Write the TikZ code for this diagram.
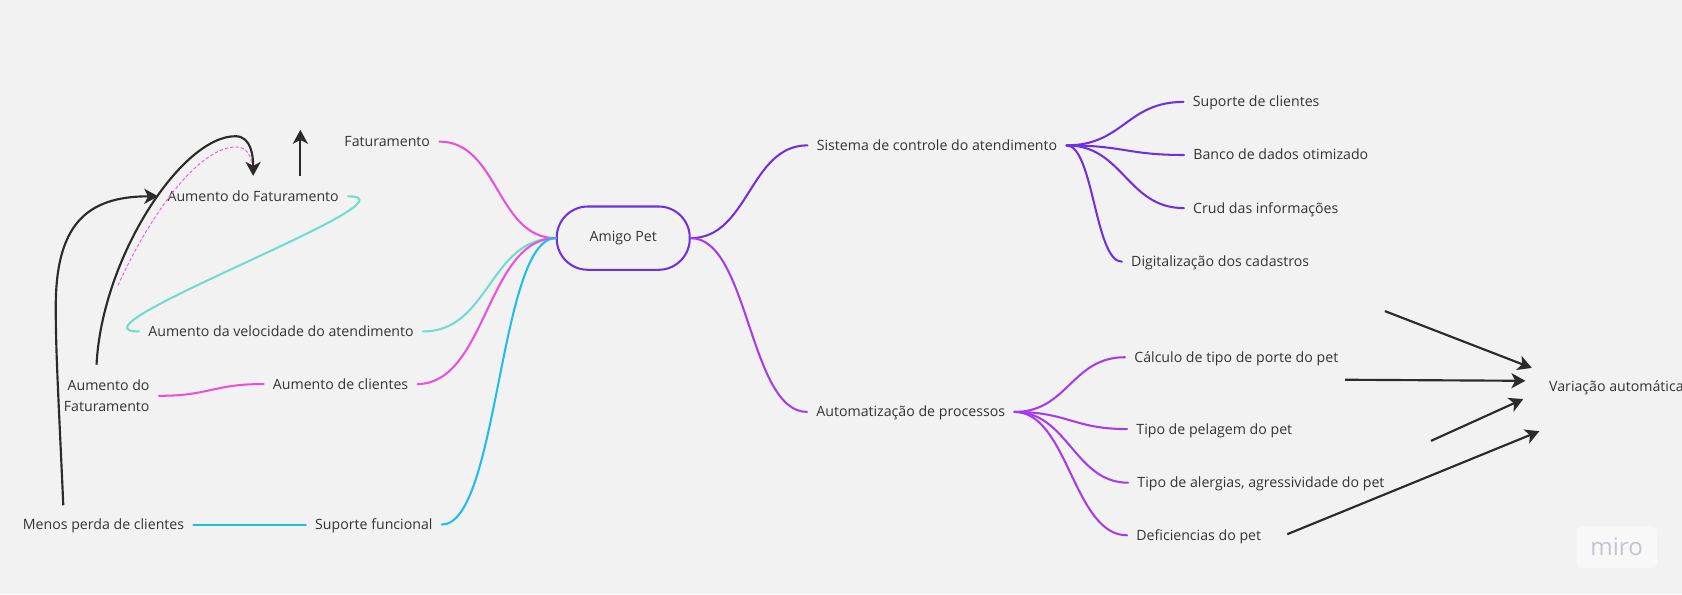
\documentclass[tikz,border=0pt]{standalone}
\usepackage{fontspec}
\setmainfont{Open Sans}
\usetikzlibrary{arrows.meta,calc}
\definecolor{bg}{HTML}{F2F2F2}
\definecolor{txt}{HTML}{333333}
\definecolor{cpink}{HTML}{EC4FDA}
\definecolor{cteal}{HTML}{6EDDCB}
\definecolor{cblue}{HTML}{1EBDEB}
\definecolor{cpurple}{HTML}{6F2FE3}
\definecolor{cviolet}{HTML}{A63BEC}
\definecolor{cblack}{HTML}{2B2B2B}
\definecolor{mirotxt}{HTML}{C4C4D2}
\begin{document}
\begin{tikzpicture}[x=1pt,y=-1pt,
  font=\fontsize{13.2}{20}\selectfont,
  lbl/.style={text=txt, inner xsep=8.5pt, inner ysep=2pt, text height=9.6pt, text depth=0.3pt},
  conn/.style={line width=1.9pt, line cap=round},
  arr/.style={cblack, line width=2pt, -{Stealth[length=13pt,width=14pt,inset=3.5pt]}},
]
\fill[bg] (0,0) rectangle (1568,554);
\clip (0,0) rectangle (1568,554);

% central node
\node[draw=cpurple, line width=1.9pt, rounded corners=29pt, minimum width=124pt,
      minimum height=59pt, text=txt] (amigo) at (581,222) {Amigo Pet};

% left side
\node[lbl] (fat) at (361,132) {Faturamento};
\node[lbl] (aumfat) at (236,183) {Aumento do Faturamento};
\node[lbl] (vel) at (262,309) {Aumento da velocidade do atendimento};
\node[lbl] (aumcli) at (317.5,358) {Aumento de clientes};
\node[text=txt, inner xsep=8.5pt, inner ysep=2pt, align=right] (aumfat2) at (99.5,369) {Aumento do\\Faturamento};
\node[lbl] (menos) at (96.5,489) {Menos perda de clientes};
\node[lbl] (supf) at (348.5,489) {Suporte funcional};

% right side
\node[lbl] (sis) at (873.5,135.5) {Sistema de controle do atendimento};
\node[lbl] (auto) at (849,384) {Automatização de processos};
\node[lbl] (supc) at (1171,95) {Suporte de clientes};
\node[lbl] (banco) at (1194,144.5) {Banco de dados otimizado};
\node[lbl] (crud) at (1180,194) {Crud das informações};
\node[lbl] (dig) at (1137.5,244) {Digitalização dos cadastros};
\node[lbl] (calc) at (1152.5,333) {Cálculo de tipo de porte do pet};
\node[lbl] (pel) at (1132,400) {Tipo de pelagem do pet};
\node[lbl] (alerg) at (1175.5,450) {Tipo de alergias, agressividade do pet};
\node[lbl] (defic) at (1117.5,499) {Deficiencias do pet};
\node[lbl, anchor=west, inner xsep=0pt] (var) at (1444,360) {Variação automática};

% miro watermark
\node[fill=white!45!bg, rounded corners=4pt, text=mirotxt, minimum width=75pt, minimum height=39pt,
      inner sep=0pt, font=\fontsize{22.5}{24}\selectfont] (miro) at (1507,510) {miro};

% connectors from center, left
\draw[conn,cpink] (amigo.west) to[out=180,in=0,distance=55pt] (fat.east);
\draw[conn,cteal] (amigo.west) to[out=180,in=0,distance=62pt] (vel.east);
\draw[conn,cpink] (amigo.west) to[out=180,in=0,distance=64pt] (aumcli.east);
\draw[conn,cblue] (amigo.west) to[out=180,in=0,distance=53pt] (supf.east);

\draw[conn,cteal] (aumfat.east) to[out=0,in=180,out distance=75pt,in distance=77pt] (vel.west);
\draw[conn,cpink] (aumcli.west) to[out=180,in=0,distance=48pt] (aumfat2.east);
\draw[conn,cblue] (menos.east) -- (supf.west);

% connectors from center, right
\draw[conn,cpurple] (amigo.east) to[out=0,in=180,distance=54pt] (sis.west);
\draw[conn,cviolet] (amigo.east) to[out=0,in=180,distance=54pt] (auto.west);

\draw[conn,cpurple] (sis.east) to[out=0,in=180,distance=53pt] (supc.west);
\draw[conn,cpurple] (sis.east) to[out=0,in=180,distance=53pt] (banco.west);
\draw[conn,cpurple] (sis.east) to[out=0,in=180,distance=53pt] (crud.west);
\draw[conn,cpurple] (sis.east) to[out=0,in=180,distance=25pt] (dig.west);

\draw[conn,cviolet] (auto.east) to[out=0,in=180,distance=50pt] (calc.west);
\draw[conn,cviolet] (auto.east) to[out=0,in=180,distance=50pt] (pel.west);
\draw[conn,cviolet] (auto.east) to[out=0,in=180,distance=50pt] (alerg.west);
\draw[conn,cviolet] (auto.east) to[out=0,in=180,distance=50pt] (defic.west);

% black free-hand arrows on the left
\coordinate (astart) at (90,340);
\coordinate (aend) at (236,164);
\coordinate (bstart) at (59,471);
\coordinate (upA) at (280,164);
\coordinate (upB) at (280,121);
\draw[cpink, line width=0.8pt, dash pattern=on 3pt off 2pt]
  (110,266) .. controls (140,200) and (185,137) .. (220,137)
            .. controls (231,137) and (234,146) .. (235,156);
\draw[arr] (astart) .. controls (95,240) and (170,126) .. (220,127)
                    .. controls (234,127.5) and (236,145) .. (aend);
\draw[arr] (bstart) .. controls (55,380) and (52,330) .. (52,290)
                    .. controls (51,210) and (80,183) .. (aumfat.west);
\draw[arr] (upA) -- (upB);

% black arrows on the right
\coordinate (r1a) at (1291,290); \coordinate (r1b) at (1428,343);
\coordinate (r2a) at (1254,354); \coordinate (r2b) at (1422,355);
\coordinate (r3a) at (1334,411); \coordinate (r3b) at (1420,372);
\coordinate (r4a) at (1200,498); \coordinate (r4b) at (1435,402);
\draw[arr] (r1a) -- (r1b);
\draw[arr] (r2a) -- (r2b);
\draw[arr] (r3a) -- (r3b);
\draw[arr] (r4a) -- (r4b);
\end{tikzpicture}
\end{document}
